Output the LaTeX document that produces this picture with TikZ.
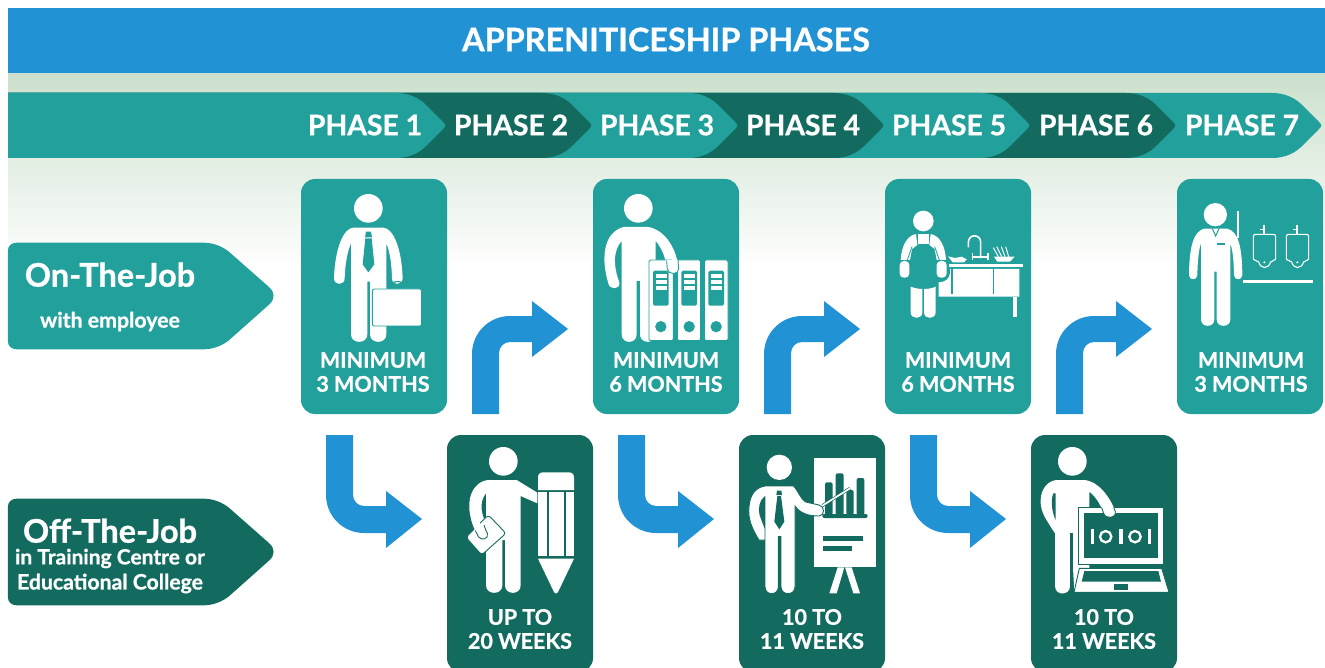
\documentclass[tikz,border=0pt]{standalone}
\usepackage{fontspec}
\setmainfont{Lato}[BoldFeatures={FakeBold=0.9}]
\usetikzlibrary{calc}
\definecolor{teal1}{HTML}{22A09B}
\definecolor{dark1}{HTML}{136B5F}
\definecolor{blue1}{HTML}{2193D5}
\definecolor{pale1}{HTML}{CBE0CC}
\tikzset{
  wtext/.style={text=white,font=\bfseries\fontsize{#1}{#1}\selectfont,inner sep=0pt},
  cardtxt/.style={text=white,font=\bfseries\fontsize{21.5}{24}\selectfont,inner sep=0pt,align=center},
  phasetxt/.style={text=white,font=\bfseries\fontsize{28.3}{30}\selectfont,inner sep=0pt},
  oncard/.style={fill=teal1,rounded corners=14pt,minimum width=146pt,minimum height=235pt,inner sep=0pt,outer sep=0pt},
  offcard/.style={fill=dark1,rounded corners=14pt,minimum width=146pt,minimum height=237pt,inner sep=0pt,outer sep=0pt},
  wl/.style={draw=white,line width=#1,fill=none},
}
\newcommand{\chevshape}[2]{%
  \fill[#2] (8,93) -- ({#1-51},93) .. controls ({#1-38},93) and ({#1-27},98) .. ({#1-19},107)
   -- ({#1-4},122) .. controls ({#1-1},125) and ({#1-1},126) .. ({#1-4},129)
   -- ({#1-19},144) .. controls ({#1-27},153) and ({#1-38},158) .. ({#1-51},158) -- (8,158) -- cycle;}
\newcommand{\tagshape}[2]{%
  \fill[#2,shift={(0,#1)},scale=1/3] (24,60) .. controls (24,48) and (36,38) .. (50,38) -- (610,38)
   .. controls (640,38) and (670,50) .. (690,68) -- (808,172) .. controls (825,187) and (825,208) .. (808,223)
   -- (690,328) .. controls (670,346) and (640,358) .. (610,358) -- (50,358) .. controls (36,358) and (24,348) .. (24,336) -- cycle;}
\newcommand{\riser}[1]{%
  \fill[blue1,shift={($(#1.south east)+(25,0)$)}] (0,0) -- (0,-60) .. controls (0,-81) and (17,-98) .. (38,-98)
   -- (60,-98) -- (60,-113) -- (96,-85) -- (60,-57) -- (60,-72) -- (38,-72)
   .. controls (32,-72) and (27,-67) .. (27,-61) -- (27,0) -- cycle;}
\newcommand{\dropper}[1]{%
  \fill[blue1,shift={($(#1.south west)+(25,21)$)}] (0,0) -- (0,60) .. controls (0,81) and (17,98) .. (38,98)
   -- (60,98) -- (60,113) -- (96,84) -- (60,56) -- (60,71) -- (38,71)
   .. controls (32,71) and (27,66) .. (27,60) -- (27,0) -- cycle;}
\begin{document}
\begin{tikzpicture}[x=1pt,y=-1pt]
\clip (0,0) rectangle (1325,668);
\fill[white] (0,0) rectangle (1325,668);
\shade[top color=pale1,bottom color=white] (8,73) rectangle (1325,270);
\fill[blue1] (8,8) rectangle (1325,73);
\node[wtext=32.4] (title) at (666,39.5) {APPRENITICESHIP PHASES};
% phase band
\chevshape{1323}{teal1}
\chevshape{1177}{dark1}
\chevshape{1031}{teal1}
\chevshape{885}{dark1}
\chevshape{739}{teal1}
\chevshape{593}{dark1}
\chevshape{447}{teal1}
\node[phasetxt] (p1) at (365,125) {PHASE 1};
\node[phasetxt] (p2) at (511,125) {PHASE 2};
\node[phasetxt] (p3) at (657,125) {PHASE 3};
\node[phasetxt] (p4) at (803,125) {PHASE 4};
\node[phasetxt] (p5) at (949,125) {PHASE 5};
\node[phasetxt] (p6) at (1096,125) {PHASE 6};
\node[phasetxt] (p7) at (1242,125) {PHASE 7};
% side tags
\tagshape{230}{teal1}
\tagshape{486}{dark1}
\node[wtext=32.5] (onjob) at (110,274.7) {On-The-Job};
\node[wtext=21.3] (withemp) at (110,321.5) {with employee};
\node[wtext=32.5] (offjob) at (110,530.7) {Off-The-Job};
\node[wtext=21] (train) at (110,558.5) {in Training Centre or};
\node[wtext=21.2] (edu) at (110,583.5) {Educational College};
% cards
\node[oncard] (c1) at (374,296.5) {};
\node[oncard] (c3) at (666,296.5) {};
\node[oncard] (c5) at (958,296.5) {};
\node[oncard] (c7) at (1250,296.5) {};
\node[offcard] (c2) at (520,553.5) {};
\node[offcard] (c4) at (812,553.5) {};
\node[offcard] (c6) at (1104,553.5) {};
\node[cardtxt] (t1) at (373,372) {MINIMUM\\3 MONTHS};
\node[cardtxt] (t3) at (666,372) {MINIMUM\\6 MONTHS};
\node[cardtxt] (t5) at (958,372) {MINIMUM\\6 MONTHS};
\node[cardtxt] (t7) at (1251,372) {MINIMUM\\3 MONTHS};
\node[cardtxt] (t2) at (520,629) {UP TO\\20 WEEKS};
\node[cardtxt] (t4) at (812,629) {10 TO\\11 WEEKS};
\node[cardtxt] (t6) at (1104,629) {10 TO\\11 WEEKS};
% arrows
\riser{c1}\riser{c3}\riser{c5}
\dropper{c1}\dropper{c3}\dropper{c5}
% ---- icon 1 businessman
\begin{scope}[shift={(290,175)},scale=1/3]
\fill[white] (235,100) circle[radius=43];
\fill[white] (190,158) -- (280,158) .. controls (310,160) and (335,220) .. (338,310)
 .. controls (338,332) and (305,332) .. (306,310) .. controls (305,270) and (300,230) .. (289,205)
 -- (289,478) .. controls (289,508) and (240,508) .. (240,478) -- (240,320) -- (232,320) -- (232,478)
 .. controls (232,508) and (183,508) .. (183,478) -- (183,205) .. controls (172,230) and (165,270) .. (164,310)
 .. controls (164,332) and (132,332) .. (132,310) .. controls (135,220) and (160,160) .. (190,158) -- cycle;
\fill[teal1] (228,170) -- (243,170) -- (246,187) -- (225,187) -- cycle;
\fill[teal1] (226,190) -- (245,190) -- (253,268) -- (235,292) -- (218,268) -- cycle;
\draw[teal1,line width=1.2pt] (298,342) .. controls (298,312) and (347,312) .. (347,342);
\fill[white,draw=teal1,line width=.9pt,rounded corners=2pt] (247,342) rectangle (395,453);
\end{scope}
% ---- icon 3 binders
\begin{scope}[shift={(290,175)},scale=1/3]
\fill[white] (1045,100) circle[radius=43];
\fill[white] (1000,156) -- (1075,156) .. controls (1125,165) and (1160,220) .. (1166,282)
 .. controls (1166,300) and (1135,300) .. (1132,282) .. controls (1125,240) and (1112,215) .. (1097,198)
 -- (1097,478) .. controls (1097,508) and (1050,508) .. (1050,478) -- (1050,318) -- (1040,318) -- (1040,478)
 .. controls (1040,508) and (995,508) .. (995,478) -- (995,198) .. controls (975,220) and (965,260) .. (988,322)
 .. controls (992,345) and (958,345) .. (955,325) .. controls (935,260) and (935,175) .. (1000,156) -- cycle;
\foreach \bx/\wx in {1077/73,1162/70,1243/71}{
  \fill[white,draw=teal1,line width=.9pt,rounded corners=1.5pt] (\bx,255) rectangle ++(\wx,242);
  \fill[teal1,rounded corners=1.5pt] ({\bx+12},287) rectangle ++(47,105);
  \fill[white] ({\bx+20},298) rectangle ++(34,12);
  \fill[white] ({\bx+20},316) rectangle ++(34,12);
  \fill[white] ({\bx+20},334) rectangle ++(34,11);
  \fill[teal1] ({\bx+35.5},455) circle[radius=17];
}
\fill[white] (1130,255) -- (1132,282) .. controls (1135,300) and (1166,300) .. (1166,282) -- (1164,255) -- cycle;
\draw[teal1,line width=.9pt] (1130,257) -- (1132,282) .. controls (1135,300) and (1166,300) .. (1166,282) -- (1164,257);
\end{scope}
% ---- icon 5 kitchen
\begin{scope}[shift={(890,205)},scale=1/3]
\fill[white] (100,48) circle[radius=31];
\fill[white] (78,87) -- (82,120) -- (66,132) -- (60,165) -- (32,165) .. controls (34,125) and (50,92) .. (78,87) -- cycle;
\fill[white] (122,87) -- (118,120) -- (134,132) -- (140,165) -- (168,165) .. controls (166,125) and (150,92) .. (122,87) -- cycle;
\fill[white] (83,88) rectangle (118,118);
\draw[teal1,line width=.8pt] (66,125) -- (52,165);
\draw[teal1,line width=.8pt] (134,125) -- (148,165);
\fill[white,rounded corners=4pt] (29,168) rectangle (58,218);
\fill[white,rounded corners=4pt] (140,168) rectangle (170,218);
\fill[white] (62,245) .. controls (75,250) and (88,252) .. (97,252) -- (97,322) .. controls (97,344) and (62,344) .. (62,322) -- cycle;
\fill[white] (137,245) .. controls (127,250) and (112,252) .. (102,252) -- (102,322) .. controls (102,344) and (137,344) .. (137,322) -- cycle;
\fill[white] (178,177) rectangle (400,186);
\fill[white] (180,192) -- (388,192) -- (388,275) -- (146,275) -- (146,232) .. controls (165,232) and (178,222) .. (180,205) -- cycle;
\fill[white] (370,275) rectangle (381,336);
\draw[teal1,line width=1.2pt] (186,190) -- (186,266);
\draw[teal1,line width=1.2pt] (310,190) -- (310,266);
\draw[wl=1.6pt] (235,127) -- (235,112) .. controls (235,86) and (272,86) .. (272,112) -- (272,160);
\draw[wl=2pt] (245,155) -- (295,155);
\draw[wl=1.5pt] (247,145) -- (247,165);
\draw[wl=1.5pt] (294,145) -- (294,165);
\fill[white] (312,155) -- (374,155) -- (360,170) -- (322,170) -- cycle;
\draw[wl=1pt] (310,128) -- (325,155);
\draw[wl=1pt] (320,125) -- (335,155);
\draw[wl=1pt] (334,125) -- (345,155);
\draw[wl=1pt] (347,125) -- (356,155);
\fill[white] (174,154) -- (195,159) -- (215,155) -- (230,163) -- (222,172) -- (188,172) -- cycle;
\end{scope}
% ---- icon 7 urinals
\begin{scope}[shift={(1180,200)},scale=1/3]
\fill[white] (106,44) circle[radius=35];
\fill[white] (72,86) -- (142,86) .. controls (175,95) and (186,140) .. (187,225)
 .. controls (187,242) and (162,242) .. (162,225) .. controls (161,180) and (158,150) .. (151,130)
 -- (151,358) .. controls (151,384) and (110,384) .. (110,358) -- (110,215) -- (103,215) -- (103,358)
 .. controls (103,384) and (63,384) .. (63,358) -- (63,130) .. controls (56,150) and (53,180) .. (52,225)
 .. controls (52,242) and (27,242) .. (27,225) .. controls (28,140) and (40,95) .. (72,86) -- cycle;
\draw[teal1,line width=1pt] (97,86) -- (107,108) -- (117,86);
\fill[teal1] (110,129) rectangle (135,134);
\fill[white] (170,33) rectangle (177,115);
\fill[white] (189,240) rectangle (399,248);
\foreach \ux in {0,99}{
 \begin{scope}[xshift=\ux]
 \draw[wl=1.1pt,rounded corners=2pt] (220,178) -- (220,103) -- (287,103) -- (287,178);
 \draw[wl=1.1pt] (220,178) -- (236,186) .. controls (242,208) and (265,208) .. (272,186) -- (287,178);
 \fill[white] (253,187) circle[radius=3.5];
 \draw[wl=1.1pt] (252,75) -- (252,103);
 \draw[wl=1.1pt] (239,88) -- (252,88);
 \end{scope}
}
\end{scope}
% ---- icon 2 pencil
\begin{scope}[shift={(460,440)},scale=1/3]
\fill[white] (130,64) circle[radius=43];
\fill[white] (85,120) -- (170,120) -- (232,158) -- (232,190) -- (182,168) -- (182,436)
 .. controls (182,466) and (135,466) .. (135,436) -- (135,300) -- (127,300) -- (127,436)
 .. controls (127,466) and (78,466) .. (78,436) -- (78,160) .. controls (62,180) and (58,210) .. (78,250)
 -- (85,285) -- (55,285) .. controls (35,255) and (26,220) .. (28,190) .. controls (30,150) and (55,122) .. (85,120) -- cycle;
\fill[white,draw=dark1,line width=.9pt,rounded corners=3pt] (18,292) -- (85,225) -- (138,280) -- (65,345) -- cycle;
\fill[white] (56,235) .. controls (60,255) and (70,268) .. (82,282) .. controls (88,295) and (65,305) .. (55,290) .. controls (45,272) and (37,255) .. (33,235) -- cycle;
\draw[dark1,line width=.9pt] (72,255) .. controls (75,265) and (78,272) .. (82,280) .. controls (88,295) and (65,305) .. (55,290) -- (46,272);
\fill[white] (234,150) -- (234,112) .. controls (234,102) and (240,97) .. (250,97) -- (326,97) .. controls (336,97) and (342,102) .. (342,112) -- (342,150) -- cycle;
\fill[white] (234,156) rectangle (260,348);
\fill[white] (266,156) rectangle (312,348);
\fill[white] (318,156) rectangle (342,348);
\fill[white] (234,356) -- (342,356) -- (296,452) .. controls (292,463) and (284,463) .. (280,452) -- cycle;
\end{scope}
% ---- icon 4 presenter
\begin{scope}[shift={(745,450)},scale=1/3]
\fill[white] (206,25) rectangle (392,352);
\fill[white] (278,352) -- (298,352) -- (275,430) -- (253,430) -- cycle;
\fill[white] (300,352) -- (320,352) -- (345,430) -- (325,430) -- cycle;
\foreach \ax/\ay/\aw in {240/97/23,272/70/24,304/120/22,335/84/23}{
  \fill[dark1,rounded corners=2pt] (\ax,195) -- (\ax,\ay) -- ({\ax+\aw},\ay) -- ({\ax+\aw},195) -- cycle;
}
\fill[dark1,rounded corners=2pt] (232,192) rectangle (368,204);
\fill[dark1] (233,257) rectangle (353,273);
\fill[dark1] (233,287) rectangle (320,303);
\draw[dark1,line width=3pt] (232,167) -- (315,115);
\draw[white,line width=1.7pt] (232,167) -- (315,115);
\fill[white] (103,52) circle[radius=38];
\fill[white,draw=dark1,line width=.9pt] (60,108) -- (146,108) .. controls (160,125) and (170,150) .. (182,156) -- (222,165)
 .. controls (240,168) and (240,198) .. (222,198) .. controls (190,198) and (165,190) .. (150,168)
 -- (150,410) .. controls (150,438) and (108,438) .. (108,410) -- (108,260) -- (100,260) -- (100,410)
 .. controls (100,438) and (60,438) .. (60,410) -- (60,140) .. controls (45,150) and (40,175) .. (45,195)
 -- (60,235) -- (60,270) -- (42,270) .. controls (20,235) and (8,205) .. (12,170) .. controls (15,130) and (35,112) .. (60,108) -- cycle;
\fill[dark1] (96,122) -- (109,122) -- (111,135) -- (94,135) -- cycle;
\fill[dark1] (97,138) -- (108,138) -- (118,215) -- (103,238) -- (88,215) -- cycle;
\end{scope}
% ---- icon 6 laptop
\begin{scope}[shift={(1035,440)},scale=1/3]
\fill[white] (112,64) circle[radius=43];
\fill[white] (65,120) -- (150,120) .. controls (190,125) and (225,170) .. (241,215)
 .. controls (244,235) and (212,240) .. (205,218) .. controls (195,190) and (180,168) .. (163,155)
 -- (163,400) -- (130,400) -- (118,455) -- (108,280) -- (105,280) -- (105,438)
 .. controls (105,468) and (60,468) .. (60,438) -- (60,280) -- (50,265) .. controls (35,240) and (15,215) .. (17,180)
 .. controls (18,145) and (40,122) .. (65,120) -- cycle;
\fill[dark1] (55,160) .. controls (47,180) and (50,215) .. (62,240) -- (62,160) -- cycle;
\fill[dark1] (105,280) -- (115,280) -- (115,462) -- (105,462) -- cycle;
\fill[white,draw=dark1,line width=.9pt] (130,203) rectangle (385,372);
\fill[dark1] (148,220) rectangle (368,355);
\fill[white,draw=dark1,line width=.9pt] (133,385) -- (380,385) -- (402,457) -- (117,457) -- cycle;
\fill[dark1] (148,393) -- (370,393) -- (378,425) -- (140,425) -- cycle;
\fill[dark1] (236,431) rectangle (280,449);
\fill[white] (168,268) rectangle (178,312);
\fill[white] (253,268) rectangle (263,312);
\fill[white] (338,268) rectangle (348,312);
\draw[wl=2.3pt] (212,290) circle[radius=17];
\draw[wl=2.3pt] (300,290) circle[radius=17];
\fill[white] (199,200) -- (205,218) .. controls (212,240) and (244,235) .. (241,215) -- (235,200) -- cycle;
\draw[dark1,line width=.9pt] (200,203) -- (205,218) .. controls (212,240) and (244,235) .. (241,215) -- (236,203);
\end{scope}
\end{tikzpicture}
\end{document}
